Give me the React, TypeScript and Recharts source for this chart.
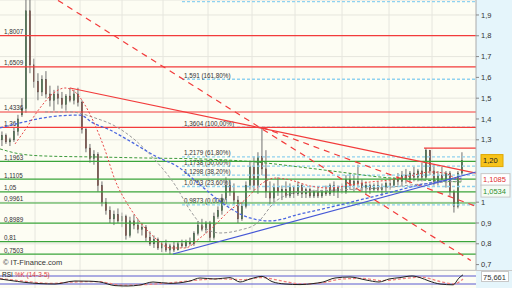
import React from "react";
import {
  ComposedChart,
  Bar,
  Line,
  XAxis,
  YAxis,
  CartesianGrid,
  ReferenceLine,
} from "recharts";

const FONT = "'Liberation Sans', Arial, sans-serif";
const RED = "#f23b3b";
const GREEN = "#3aa43a";
const FIBO = "#8fd2f0";
const BLUE = "#4658d6";

// candles (open / high / low / close), one per session
const opens = [
  1.30, 1.32, 1.29, 1.30, 1.34, 1.42, 1.45, 1.92, 1.66, 1.58,
  1.53, 1.59, 1.52, 1.49, 1.52, 1.50, 1.47, 1.51, 1.49, 1.52,
  1.48, 1.35, 1.26, 1.21, 1.23, 1.08, 1.00, 0.96, 0.92, 0.94,
  0.91, 0.93, 0.84, 0.91, 0.89, 0.87, 0.88, 0.83, 0.80, 0.82,
  0.78, 0.80, 0.77, 0.79, 0.77, 0.80, 0.79, 0.81, 0.80, 0.85,
  0.89, 0.87, 0.90, 0.83, 0.93, 0.96, 1.02, 1.08, 1.05, 1.01,
  0.92, 0.98, 1.08, 1.17, 1.08, 1.22, 1.16, 1.05, 1.02, 1.07,
  1.05, 1.06, 1.03, 1.07, 1.04, 1.08, 1.04, 1.06, 1.03, 1.05,
  1.03, 1.05, 1.04, 1.08, 1.05, 1.07, 1.05, 1.11, 1.08, 1.10,
  1.09, 1.07, 1.08, 1.06, 1.08, 1.06, 1.07, 1.09, 1.08, 1.11,
  1.10, 1.13, 1.11, 1.14, 1.12, 1.15, 1.12, 1.25, 1.15, 1.10,
  1.13, 1.11, 1.14, 1.05, 0.98, 1.14,
];
const highs = [
  1.34, 1.33, 1.31, 1.36, 1.42, 1.50, 1.99, 1.99, 1.69, 1.62,
  1.61, 1.63, 1.56, 1.54, 1.56, 1.53, 1.52, 1.55, 1.54, 1.55,
  1.49, 1.36, 1.28, 1.25, 1.24, 1.10, 1.02, 0.98, 0.96, 0.97,
  0.95, 0.94, 0.93, 0.94, 0.92, 0.90, 0.89, 0.86, 0.84, 0.83,
  0.81, 0.82, 0.80, 0.81, 0.81, 0.82, 0.82, 0.83, 0.86, 0.91,
  0.92, 0.91, 0.91, 0.95, 0.98, 1.04, 1.12, 1.11, 1.09, 1.03,
  1.00, 1.10, 1.20, 1.22, 1.24, 1.36, 1.25, 1.10, 1.09, 1.12,
  1.08, 1.10, 1.09, 1.08, 1.10, 1.09, 1.07, 1.07, 1.06, 1.07,
  1.06, 1.08, 1.09, 1.10, 1.08, 1.09, 1.13, 1.14, 1.13, 1.18,
  1.11, 1.10, 1.09, 1.09, 1.10, 1.09, 1.10, 1.11, 1.12, 1.14,
  1.15, 1.16, 1.15, 1.17, 1.16, 1.19, 1.26, 1.25, 1.18, 1.15,
  1.17, 1.15, 1.15, 1.06, 1.15, 1.24,
];
const lows = [
  1.27, 1.28, 1.27, 1.29, 1.32, 1.41, 1.43, 1.62, 1.55, 1.49,
  1.51, 1.50, 1.46, 1.44, 1.47, 1.45, 1.44, 1.48, 1.47, 1.46,
  1.33, 1.24, 1.19, 1.18, 1.05, 0.98, 0.94, 0.90, 0.89, 0.90,
  0.88, 0.82, 0.83, 0.87, 0.85, 0.84, 0.81, 0.79, 0.78, 0.77,
  0.76, 0.76, 0.75, 0.76, 0.77, 0.78, 0.78, 0.79, 0.79, 0.84,
  0.86, 0.85, 0.81, 0.82, 0.92, 0.94, 1.01, 1.03, 0.99, 0.90,
  0.91, 0.97, 1.06, 1.05, 1.04, 1.13, 1.02, 0.99, 1.00, 1.03,
  1.01, 1.02, 1.02, 1.02, 1.03, 1.02, 1.02, 1.02, 1.02, 1.02,
  1.02, 1.03, 1.03, 1.03, 1.02, 1.04, 1.04, 1.06, 1.05, 1.07,
  1.05, 1.04, 1.04, 1.05, 1.05, 1.03, 1.05, 1.06, 1.07, 1.08,
  1.08, 1.09, 1.09, 1.10, 1.10, 1.10, 1.11, 1.13, 1.08, 1.08,
  1.10, 1.07, 1.03, 0.95, 0.97, 1.13,
];
const closes = [
  1.32, 1.29, 1.30, 1.34, 1.40, 1.45, 1.92, 1.66, 1.58, 1.53,
  1.59, 1.52, 1.49, 1.52, 1.50, 1.47, 1.51, 1.49, 1.52, 1.48,
  1.35, 1.26, 1.21, 1.23, 1.08, 1.00, 0.96, 0.92, 0.94, 0.91,
  0.93, 0.84, 0.91, 0.89, 0.87, 0.88, 0.83, 0.80, 0.82, 0.78,
  0.80, 0.77, 0.79, 0.77, 0.80, 0.79, 0.81, 0.80, 0.85, 0.89,
  0.87, 0.90, 0.83, 0.93, 0.96, 1.02, 1.08, 1.05, 1.01, 0.92,
  0.98, 1.08, 1.17, 1.08, 1.22, 1.16, 1.05, 1.02, 1.07, 1.05,
  1.06, 1.03, 1.07, 1.04, 1.08, 1.04, 1.06, 1.03, 1.05, 1.03,
  1.05, 1.04, 1.08, 1.05, 1.07, 1.05, 1.11, 1.08, 1.10, 1.09,
  1.07, 1.08, 1.06, 1.08, 1.06, 1.07, 1.09, 1.08, 1.11, 1.10,
  1.13, 1.11, 1.14, 1.12, 1.15, 1.12, 1.25, 1.15, 1.10, 1.13,
  1.11, 1.14, 1.05, 0.98, 1.14, 1.20,
];

// moving averages
const maRed = [
  { i: 3.25, v: 1.28 }, { i: 5.75, v: 1.347 }, { i: 9.5, v: 1.453 }, { i: 13.25, v: 1.53 },
  { i: 15.75, v: 1.549 }, { i: 18.25, v: 1.53 }, { i: 20.75, v: 1.467 }, { i: 23.25, v: 1.371 },
  { i: 25.75, v: 1.251 }, { i: 28.25, v: 1.107 }, { i: 31.5, v: 0.987 }, { i: 34.5, v: 0.905 },
  { i: 38.25, v: 0.828 }, { i: 42, v: 0.78 }, { i: 45.75, v: 0.78 }, { i: 49.5, v: 0.828 },
  { i: 53.25, v: 0.89 }, { i: 57, v: 0.962 }, { i: 60.75, v: 1.011 }, { i: 64.5, v: 1.083 },
  { i: 68.25, v: 1.116 }, { i: 72, v: 1.107 }, { i: 77, v: 1.078 }, { i: 82, v: 1.068 },
  { i: 87, v: 1.083 }, { i: 92, v: 1.097 }, { i: 97, v: 1.107 }, { i: 102, v: 1.126 },
  { i: 107, v: 1.145 }, { i: 110.75, v: 1.14 }, { i: 113.25, v: 1.116 }, { i: 115, v: 1.1085 },
];
const maBlue = [
  { i: -0.5, v: 1.357 }, { i: 4.5, v: 1.381 }, { i: 12, v: 1.41 }, { i: 19.5, v: 1.419 },
  { i: 22.75, v: 1.381 }, { i: 27, v: 1.347 }, { i: 31.5, v: 1.299 }, { i: 39.75, v: 1.208 },
  { i: 43.25, v: 1.179 }, { i: 49.5, v: 1.083 }, { i: 55.75, v: 0.987 }, { i: 62, v: 0.924 },
  { i: 67, v: 0.91 }, { i: 74.5, v: 0.943 }, { i: 84.5, v: 0.987 }, { i: 94.5, v: 1.035 },
  { i: 104.5, v: 1.083 }, { i: 115, v: 1.116 },
];
const maGrey = [
  { i: 10.75, v: 1.434 }, { i: 17, v: 1.434 }, { i: 23.25, v: 1.405 }, { i: 28.25, v: 1.366 },
  { i: 33.25, v: 1.299 }, { i: 38.25, v: 1.203 }, { i: 43.25, v: 1.083 }, { i: 47, v: 0.962 },
  { i: 50.75, v: 0.876 }, { i: 54.5, v: 0.852 }, { i: 59.5, v: 0.866 }, { i: 63.5, v: 0.895 },
  { i: 68.5, v: 1.006 }, { i: 74.5, v: 1.049 }, { i: 84.5, v: 1.059 }, { i: 94.5, v: 1.068 },
  { i: 104.5, v: 1.087 }, { i: 115, v: 1.102 },
];
const maGreen = [
  { i: -0.5, v: 1.256 }, { i: 4.5, v: 1.232 }, { i: 10.75, v: 1.222 }, { i: 24.5, v: 1.217 },
  { i: 37, v: 1.212 }, { i: 49.5, v: 1.208 }, { i: 63.5, v: 1.193 }, { i: 74.5, v: 1.169 },
  { i: 84.5, v: 1.145 }, { i: 94.5, v: 1.121 }, { i: 104.5, v: 1.107 }, { i: 115, v: 1.097 },
];

// RSI panel
const rsi = [
  { i: -0.5, v: 55 }, { i: 2, v: 48 }, { i: 5.75, v: 38 }, { i: 9.5, v: 32 }, { i: 13.25, v: 30 },
  { i: 18.25, v: 45 }, { i: 22, v: 44 }, { i: 24.5, v: 40 }, { i: 28.25, v: 22 }, { i: 31.25, v: 20 },
  { i: 34.5, v: 25 }, { i: 37.75, v: 40 }, { i: 42, v: 33 }, { i: 47, v: 45 }, { i: 49.5, v: 60 },
  { i: 53.25, v: 55 }, { i: 57, v: 62 }, { i: 59.5, v: 40 }, { i: 62, v: 55 }, { i: 65, v: 68 },
  { i: 67.5, v: 42 }, { i: 70.75, v: 30 }, { i: 74.5, v: 27 }, { i: 77.75, v: 32 }, { i: 80.25, v: 40 },
  { i: 83.25, v: 60 }, { i: 87, v: 65 }, { i: 91, v: 50 }, { i: 94.25, v: 40 }, { i: 96.75, v: 55 },
  { i: 99.5, v: 62 }, { i: 102.5, v: 70 }, { i: 104.5, v: 62 }, { i: 106.75, v: 45 }, { i: 109.5, v: 30 },
  { i: 112.75, v: 26 }, { i: 114.25, v: 60 }, { i: 115.25, v: 76 },
];
const rsiSignal = [
  { i: -0.5, v: 58 }, { i: 5, v: 45 }, { i: 12, v: 33 }, { i: 18, v: 40 }, { i: 24, v: 42 },
  { i: 30, v: 24 }, { i: 36, v: 27 }, { i: 42, v: 36 }, { i: 48, v: 48 }, { i: 54, v: 56 },
  { i: 60, v: 52 }, { i: 65, v: 62 }, { i: 70, v: 45 }, { i: 75, v: 30 }, { i: 80, v: 36 },
  { i: 85, v: 55 }, { i: 90, v: 58 }, { i: 95, v: 47 }, { i: 100, v: 56 }, { i: 105, v: 64 },
  { i: 109, v: 45 }, { i: 113, v: 30 }, { i: 115.25, v: 55 },
];

// levels
const redLevels = [1.8007, 1.6509, 1.4336, 1.36];
const redLabels = ["1,8007", "1,6509", "1,4336", "1,36"];
const greenLevels = [1.1963, 1.1105, 1.05, 0.9961, 0.8989, 0.81, 0.7503];
const greenLabels = ["1,1963", "1,1105", "1,05", "0,9961", "0,8989", "0,81", "0,7503"];
const fiboLevels = [1.9641, 1.591, 1.3604, 1.2179, 1.1738, 1.1298, 1.0753, 0.9873];
const fiboLabels = [
  "", "1,591 (161,80%)", "1,3604 (100,00%)", "1,2179 (61,80%)", "1,1738 (50,00%)",
  "1,1298 (38,20%)", "1,0753 (23,60%)", "0,9873 (0,00%)",
];
const fiboStart = 45;
const yTicks = [0.7, 0.8, 0.9, 1.0, 1.3, 1.4, 1.5, 1.6, 1.7, 1.8, 1.9];
const gridX = [8.25, 19.5, 30, 40.25, 51.5, 62.5, 73.25, 85, 96.75, 107.5];

// trend lines
const trendRed = [{ x: 17, y: 1.549 }, { x: 118.5, y: 1.14 }];
const trendRedDash = [{ x: 14, y: 1.97 }, { x: 117.2, y: 0.72 }];
const trendRedFan = [{ x: 65, y: 1.36 }, { x: 118.5, y: 0.98 }];
const trendBlue = [{ x: 42.75, y: 0.751 }, { x: 118.5, y: 1.145 }];
const highLine = [{ x: 105.5, y: 1.26 }, { x: 118.5, y: 1.26 }];

const candles = opens.map((o, i) => ({ i, o, h: highs[i], l: lows[i], c: closes[i] }));

const fmt = (v: number) => (v === 1 ? "1" : v.toFixed(1).replace(".", ","));

const Candle = (props: any) => {
  const { x, y, width, height, payload } = props;
  if (!payload) return null;
  const top = Math.min(y, y + height);
  const span = Math.abs(height);
  const { o, h, l, c } = payload;
  const py = (v: number) => top + ((h - v) / (h - l)) * span;
  const up = c >= o;
  const cx = x + width / 2;
  const b1 = py(Math.max(o, c));
  const b2 = py(Math.min(o, c));
  return (
    <g>
      <line x1={cx} x2={cx} y1={top} y2={top + span} stroke="#707070" strokeWidth={1} />
      <rect
        x={x}
        y={b1}
        width={width}
        height={Math.max(1, b2 - b1)}
        fill={up ? "#2f9e3a" : "#c4452c"}
        stroke="#444"
        strokeWidth={0.5}
      />
    </g>
  );
};

const Lbl = (props: any) => {
  const { viewBox, text, dx = 4 } = props;
  if (!viewBox || !text) return null;
  return (
    <text x={viewBox.x + dx} y={viewBox.y - 1.5} fontSize={6.3} fill="#333" fontFamily={FONT}>
      {text}
    </text>
  );
};

const Tag = (props: any) => {
  const { viewBox, text, bg, color, border, w } = props;
  if (!viewBox) return null;
  const x = viewBox.x + viewBox.width + 5;
  const y = viewBox.y;
  return (
    <g>
      <rect x={x} y={y - 6} width={w} height={12} fill={bg} stroke={border} strokeWidth={1} />
      <text x={x + 2} y={y + 2.7} fontSize={7.5} fill={color} fontFamily={FONT}>
        {text}
      </text>
    </g>
  );
};

export default function App() {
  return (
    <div
      style={{
        position: "absolute",
        left: 0,
        top: 0,
        width: 512,
        height: 288,
        background: "#e5f5fb",
        overflow: "hidden",
        fontFamily: FONT,
      }}
    >
      <div style={{ position: "absolute", left: 0, top: 0 }}>
        <ComposedChart
          width={512}
          height={270}
          data={candles}
          margin={{ top: 0, right: 0, bottom: 0, left: 0 }}
        >
          <CartesianGrid fill="#fdfdf3" stroke="#e6e6de" vertical={false} />
          <XAxis dataKey="i" type="number" domain={[-0.5, 118.5]} hide allowDataOverflow />
          <YAxis
            orientation="right"
            width={36}
            domain={[0.674, 1.972]}
            ticks={yTicks}
            tickFormatter={fmt}
            allowDataOverflow
            tick={{ fontSize: 7.5, fill: "#333", fontFamily: FONT }}
            tickSize={3}
            tickMargin={2}
            axisLine={{ stroke: "#aaa" }}
            tickLine={{ stroke: "#888" }}
          />
          {gridX.map((gx) => (
            <ReferenceLine key={"gx" + gx} x={gx} stroke="#e6e6de" />
          ))}
          {fiboLevels.map((f, k) => (
            <ReferenceLine
              key={"f" + k}
              segment={[{ x: fiboStart, y: f }, { x: 118.5, y: f }]}
              stroke={FIBO}
              strokeWidth={1.3}
              strokeDasharray="3 2"
              ifOverflow="visible"
              label={<Lbl text={fiboLabels[k]} dx={2} />}
            />
          ))}
          {redLevels.map((v, k) => (
            <ReferenceLine key={"r" + k} y={v} stroke={RED} strokeWidth={1.2} label={<Lbl text={redLabels[k]} />} />
          ))}
          {greenLevels.map((v, k) => (
            <ReferenceLine key={"g" + k} y={v} stroke={GREEN} strokeWidth={1.2} label={<Lbl text={greenLabels[k]} />} />
          ))}
          <ReferenceLine segment={highLine} stroke={RED} strokeWidth={1.2} ifOverflow="visible" />
          <ReferenceLine segment={trendRedDash} stroke={RED} strokeWidth={1.2} strokeDasharray="6 5" ifOverflow="visible" />
          <ReferenceLine segment={trendRedFan} stroke={RED} strokeWidth={1.2} strokeDasharray="6 5" ifOverflow="visible" />
          <Line data={maGreen} dataKey="v" stroke="#3c9a3c" strokeDasharray="3 2" dot={false} type="monotone" isAnimationActive={false} />
          <Line data={maGrey} dataKey="v" stroke="#9a9a9a" strokeDasharray="3 2" dot={false} type="monotone" isAnimationActive={false} />
          <Line data={maBlue} dataKey="v" stroke="#4a66e0" strokeDasharray="3 2" strokeWidth={1.3} dot={false} type="monotone" isAnimationActive={false} />
          <Line data={maRed} dataKey="v" stroke="#e84848" strokeDasharray="2 2" dot={false} type="monotone" isAnimationActive={false} />
          <Bar dataKey={(d: any) => [d.l, d.h]} barSize={3} shape={<Candle />} isAnimationActive={false} />
          <ReferenceLine segment={trendRed} stroke={RED} strokeWidth={1.2} ifOverflow="visible" />
          <ReferenceLine segment={trendBlue} stroke={BLUE} strokeWidth={1.2} ifOverflow="visible" />
          <ReferenceLine y={1.2} stroke="none" label={<Tag text="1,20" bg="#f7c31a" color="#222" border="#e0a800" w={22} />} />
          <ReferenceLine y={1.1085} stroke="none" label={<Tag text="1,1085" bg="#ffffff" color="#e03030" border="#c8c8c8" w={29} />} />
          <ReferenceLine y={1.0534} stroke="none" label={<Tag text="1,0534" bg="#f4fbf4" color="#2f8f2f" border="#c8c8c8" w={29} />} />
        </ComposedChart>
      </div>
      <div
        style={{
          position: "absolute",
          left: 3,
          top: 258,
          fontSize: 7.5,
          color: "#333",
          whiteSpace: "nowrap",
        }}
      >
        © IT-Finance.com
      </div>
      <div style={{ position: "absolute", left: 0, top: 270, borderTop: "1px solid #c8c8c8" }}>
        <ComposedChart width={512} height={18} data={rsi} margin={{ top: 0, right: 36, bottom: 0, left: 0 }}>
          <CartesianGrid fill="#fdfdf3" stroke="none" />
          <XAxis dataKey="i" type="number" domain={[-0.5, 118.5]} hide allowDataOverflow />
          <YAxis domain={[5, 95]} hide allowDataOverflow />
          {gridX.map((gx) => (
            <ReferenceLine key={"rx" + gx} x={gx} stroke="#e6e6de" />
          ))}
          <ReferenceLine y={70} stroke="#5a5ad0" />
          <ReferenceLine y={30} stroke="#5a5ad0" />
          <Line data={rsiSignal} dataKey="v" stroke="#f08080" strokeDasharray="3 2" strokeWidth={1.3} dot={false} type="monotone" isAnimationActive={false} />
          <Line data={rsi} dataKey="v" stroke="#222" dot={false} type="monotone" isAnimationActive={false} />
        </ComposedChart>
      </div>
      <div style={{ position: "absolute", left: 2, top: 271, fontSize: 6.5, whiteSpace: "nowrap" }}>
        <span style={{ color: "#222" }}>RSI</span>{" "}
        <span style={{ color: "#e04040" }}>%K (14-3-5)</span>
      </div>
      <div
        style={{
          position: "absolute",
          left: 481,
          top: 271,
          width: 28,
          height: 11,
          background: "#fff",
          border: "1px solid #c8c8c8",
          fontSize: 7.5,
          color: "#333",
          lineHeight: "11px",
          paddingLeft: 1,
          boxSizing: "border-box",
        }}
      >
        75,661
      </div>
    </div>
  );
}
